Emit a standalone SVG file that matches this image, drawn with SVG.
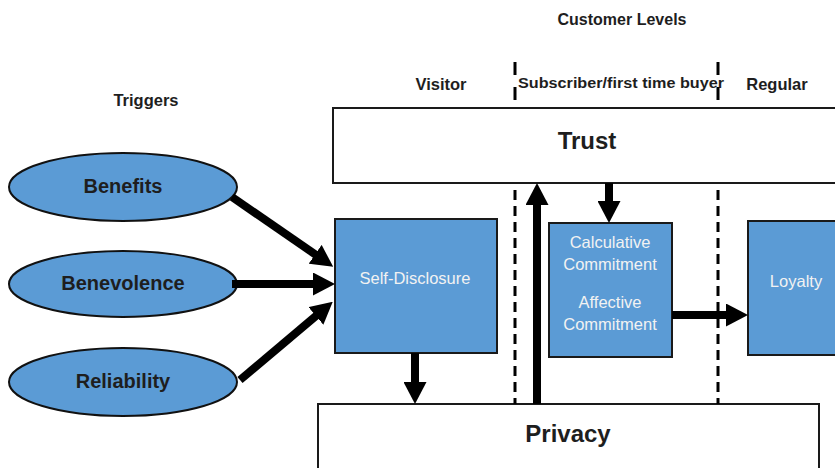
<svg xmlns="http://www.w3.org/2000/svg" width="835" height="468" viewBox="0 0 835 468">
<style>
.lbl{font-family:"Liberation Sans",Arial,sans-serif;font-weight:bold;fill:#1e1e1e;text-anchor:middle}
.oval{fill:#5B9BD5;stroke:#111;stroke-width:2}
.box{fill:#5B9BD5;stroke:#1a1a1a;stroke-width:2}
.wbox{fill:#fff;stroke:#1a1a1a;stroke-width:2}
.wt{font-family:"Liberation Sans",Arial,sans-serif;fill:#f2f2f2;text-anchor:middle;font-size:16.5px}
.arr{stroke:#000;stroke-width:8;fill:none;marker-end:url(#ah)}
.dash{stroke:#000;stroke-width:3;stroke-dasharray:10 6;fill:none}
</style>
<defs>
<marker id="ah" markerUnits="userSpaceOnUse" markerWidth="22" markerHeight="23" refX="4" refY="11.5" orient="auto">
<path d="M0,0 L22,11.5 L0,23 z" fill="#000"/>
</marker>
</defs>
<g id="labels">
<text class="lbl" x="622" y="25" font-size="16">Customer Levels</text>
<text class="lbl" x="146" y="106" font-size="16.5">Triggers</text>
<text class="lbl" x="441" y="90" font-size="16.5">Visitor</text>
<text class="lbl" x="777" y="90" font-size="16.5">Regular</text>
<text class="lbl" x="518" y="88" font-size="14.5" style="text-anchor:start" textLength="206" lengthAdjust="spacingAndGlyphs">Subscriber/first time buyer</text>
</g>
<g id="trust"><rect class="wbox" x="333" y="108" width="520" height="75"/><text class="lbl" x="587" y="149" font-size="24">Trust</text></g>
<g id="privacy"><rect class="wbox" x="318" y="404" width="501" height="80"/><text class="lbl" x="568" y="442" font-size="24">Privacy</text></g>
<g id="benefits"><ellipse class="oval" cx="123" cy="187" rx="114" ry="34"/><text class="lbl" x="123" y="193" font-size="20">Benefits</text></g>
<g id="benevolence"><ellipse class="oval" cx="123" cy="284" rx="114" ry="33"/><text class="lbl" x="123" y="290" font-size="20">Benevolence</text></g>
<g id="reliability"><ellipse class="oval" cx="123" cy="382" rx="114" ry="34"/><text class="lbl" x="123" y="388" font-size="20">Reliability</text></g>
<g id="selfdisclosure"><rect class="box" x="335" y="219" width="162" height="134"/><text class="wt" x="415" y="284">Self-Disclosure</text></g>
<g id="commitment"><rect class="box" x="549" y="223" width="123" height="134"/>
<text class="wt" x="610" y="248">Calculative</text><text class="wt" x="610" y="270">Commitment</text>
<text class="wt" x="610" y="308">Affective</text><text class="wt" x="610" y="330">Commitment</text></g>
<g id="loyalty"><rect class="box" x="748" y="221" width="100" height="134"/><text class="wt" x="796" y="287">Loyalty</text></g>
<g id="connectors">
<line class="dash" x1="515" y1="62" x2="515" y2="100" style="stroke-dasharray:13 12"/>
<line class="dash" x1="718" y1="62" x2="718" y2="100" style="stroke-dasharray:13 12"/>
<line class="dash" x1="515" y1="190" x2="515" y2="404"/>
<line class="dash" x1="718" y1="190" x2="718" y2="404"/>
<line class="arr" x1="232" y1="197" x2="318.4" y2="256.6"/>
<line class="arr" x1="232" y1="284" x2="317" y2="284"/>
<line class="arr" x1="240" y1="380" x2="319" y2="313.4"/>
<line class="arr" x1="537" y1="404" x2="537" y2="201"/>
<line class="arr" x1="609" y1="183" x2="609" y2="205"/>
<line class="arr" x1="415" y1="353" x2="415" y2="386"/>
<line class="arr" x1="672" y1="315" x2="730" y2="315"/>
</g>
</svg>
